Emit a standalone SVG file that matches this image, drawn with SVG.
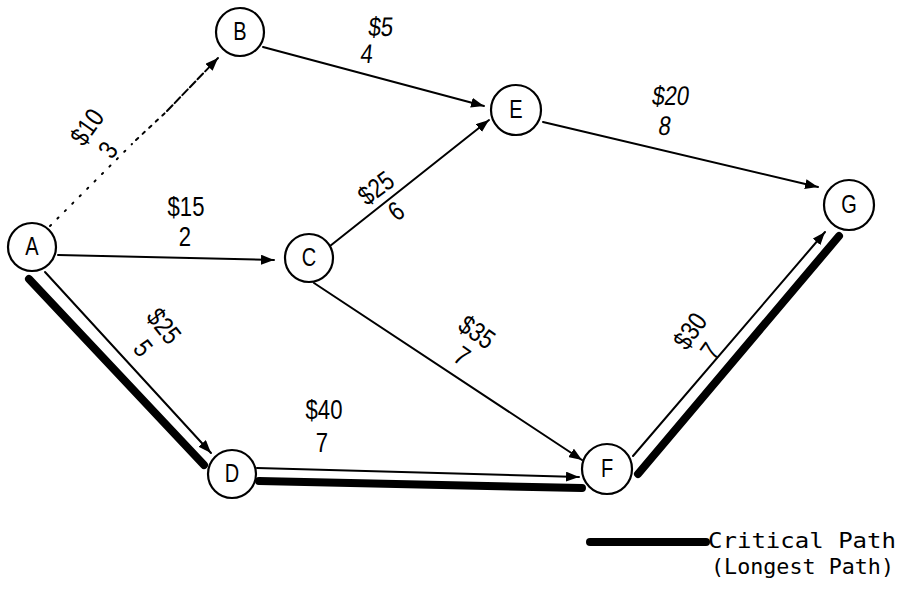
<svg xmlns="http://www.w3.org/2000/svg" width="905" height="589" viewBox="0 0 905 589">
  <style>
    .node circle { fill: #fff; stroke: #000; stroke-width: 2.2; }
    .node text { font-family: "Liberation Sans", "DejaVu Sans", sans-serif; font-size: 25px; fill: #000; text-anchor: middle; dominant-baseline: central; }
    .edge { fill: none; stroke: #000; stroke-width: 2; stroke-linecap: round; }
    .crit { fill: none; stroke: #000; stroke-width: 8; stroke-linecap: round; }
    .lbl { font-family: "Liberation Sans", "DejaVu Sans", sans-serif; font-size: 27px; fill: #000; text-anchor: middle; dominant-baseline: central; }
    .legend { font-family: "DejaVu Sans Mono", "Liberation Mono", monospace; font-size: 22px; fill: #000; }
  </style>
  <defs>
    <marker id="arrow" markerUnits="userSpaceOnUse" markerWidth="14" markerHeight="10" refX="13" refY="5" orient="auto">
      <path d="M0,0 L13,5 L0,10 z" fill="#000"/>
    </marker>
  </defs>

  <!-- connectors -->
  <g id="connectors">
    <!-- A to B: dotted, turning into dashes near B -->
    <line class="edge" x1="50" y1="226" x2="132" y2="144" stroke-width="1.6" stroke-dasharray="1.5 9"/>
    <line class="edge" x1="136" y1="140" x2="165" y2="113" stroke-width="1.8" stroke-dasharray="3 6"/>
    <line class="edge" x1="167" y1="111" x2="218" y2="58" stroke-dasharray="8 3" marker-end="url(#arrow)"/>
    <!-- B to E -->
    <line class="edge" x1="263" y1="47" x2="484" y2="106" marker-end="url(#arrow)"/>
    <!-- A to C -->
    <line class="edge" x1="58" y1="255" x2="274" y2="260" marker-end="url(#arrow)"/>
    <!-- C to E -->
    <line class="edge" x1="330" y1="246" x2="489" y2="120" marker-end="url(#arrow)"/>
    <!-- C to F -->
    <line class="edge" x1="314" y1="283" x2="582" y2="460" marker-end="url(#arrow)"/>
    <!-- E to G -->
    <line class="edge" x1="543" y1="122" x2="818" y2="187" marker-end="url(#arrow)"/>
    <!-- A to D (critical) -->
    <line class="edge" x1="45" y1="272" x2="211" y2="453" marker-end="url(#arrow)"/>
    <line class="crit" x1="29" y1="279" x2="204" y2="465"/>
    <!-- D to F (critical) -->
    <line class="edge" x1="257" y1="468" x2="579" y2="477" marker-end="url(#arrow)"/>
    <path class="crit" d="M259,481 L582,488" stroke-width="10"/>
    <!-- F to G (critical) -->
    <line class="edge" x1="633" y1="456" x2="825" y2="232" marker-end="url(#arrow)"/>
    <line class="crit" x1="638" y1="474" x2="839" y2="236"/>
  </g>

  <!-- edge labels: cost and duration -->
  <g id="labels">
    <text class="lbl" transform="translate(87,127) rotate(-55) scale(0.82,1)">$10</text>
    <text class="lbl" transform="translate(108,150) rotate(-55) scale(0.82,1)">3</text>
    <text class="lbl" transform="translate(381,27) skewX(-6) scale(0.82,1)">$5</text>
    <text class="lbl" transform="translate(367,54) skewX(-6) scale(0.82,1)">4</text>
    <text class="lbl" transform="translate(186,207) scale(0.82,1)">$15</text>
    <text class="lbl" transform="translate(185,237) scale(0.82,1)">2</text>
    <text class="lbl" transform="translate(376,188) rotate(-37) scale(0.82,1)">$25</text>
    <text class="lbl" transform="translate(396,211) rotate(-37) scale(0.82,1)">6</text>
    <text class="lbl" transform="translate(671,96) skewX(-8) scale(0.82,1)">$20</text>
    <text class="lbl" transform="translate(665,126) skewX(-8) scale(0.82,1)">8</text>
    <text class="lbl" transform="translate(164,326) rotate(52) scale(0.82,1)">$25</text>
    <text class="lbl" transform="translate(143,348) rotate(52) scale(0.82,1)">5</text>
    <text class="lbl" transform="translate(477,332) rotate(35) scale(0.82,1)">$35</text>
    <text class="lbl" transform="translate(462,356) rotate(35) scale(0.82,1)">7</text>
    <text class="lbl" transform="translate(324,410) scale(0.82,1)">$40</text>
    <text class="lbl" transform="translate(322,443) scale(0.82,1)">7</text>
    <text class="lbl" transform="translate(690,331) rotate(-55) scale(0.82,1)">$30</text>
    <text class="lbl" transform="translate(710,351) rotate(-55) scale(0.82,1)">7</text>
  </g>

  <!-- nodes -->
  <g id="node-A" class="node"><circle cx="32" cy="247" r="24"/><text transform="translate(32,247) scale(0.8,1)">A</text></g>
  <g id="node-B" class="node"><circle cx="240" cy="32" r="24"/><text transform="translate(240,32) scale(0.8,1)">B</text></g>
  <g id="node-C" class="node"><circle cx="309" cy="258" r="24"/><text transform="translate(309,258) scale(0.8,1)">C</text></g>
  <g id="node-D" class="node"><circle cx="232" cy="474" r="24"/><text transform="translate(232,474) scale(0.8,1)">D</text></g>
  <g id="node-E" class="node"><circle cx="516" cy="110" r="25"/><text transform="translate(516,110) scale(0.8,1)">E</text></g>
  <g id="node-F" class="node"><circle cx="607" cy="469" r="25"/><text transform="translate(607,469) scale(0.8,1)">F</text></g>
  <g id="node-G" class="node"><circle cx="849" cy="205" r="25"/><text transform="translate(849,205) scale(0.8,1)">G</text></g>

  <!-- legend -->
  <g id="legend">
    <line class="crit" x1="590" y1="542" x2="706" y2="542" stroke-width="7"/>
    <text class="legend" x="708" y="548" textLength="188" lengthAdjust="spacingAndGlyphs">Critical Path</text>
    <text class="legend" x="711" y="574" textLength="183" lengthAdjust="spacingAndGlyphs">(Longest Path)</text>
  </g>
</svg>
